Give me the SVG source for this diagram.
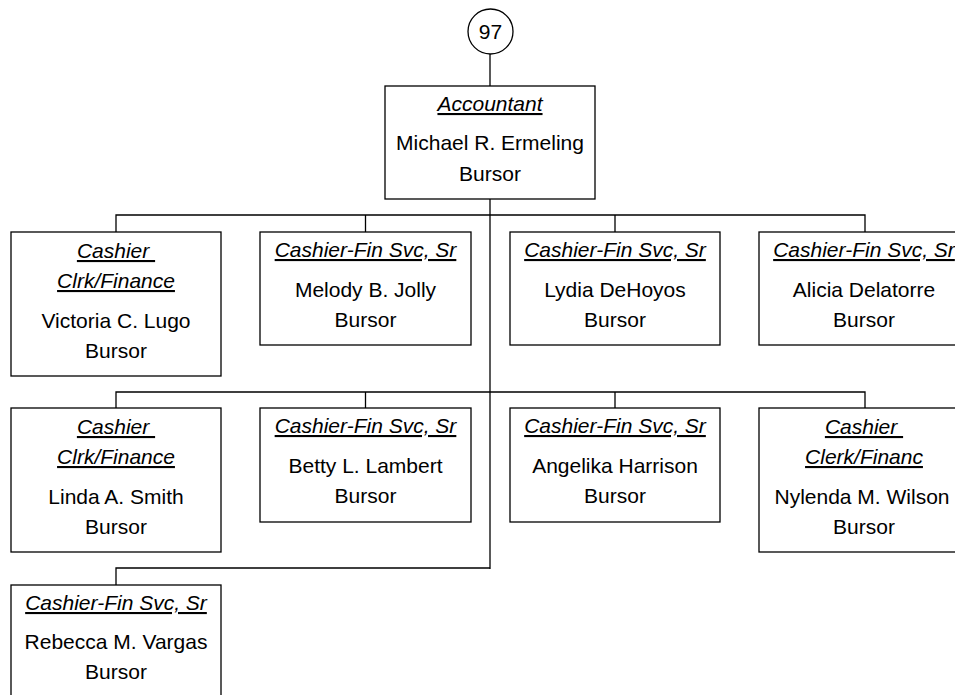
<svg xmlns="http://www.w3.org/2000/svg" width="955" height="695" viewBox="0 0 955 695">
<style>
.box{fill:#fff;stroke:#000;stroke-width:1.3}
.ln{fill:none;stroke:#000;stroke-width:1.3}
text{font-family:"Liberation Sans",Arial,sans-serif;font-size:21px;fill:#000;text-anchor:middle}
.t{font-style:italic;text-decoration:underline;white-space:pre}
</style>
<rect width="955" height="695" fill="#fff"/>
<g id="connectors">
<path class="ln" d="M490,54 V86"/>
<path class="ln" d="M490,199 V569"/>
<path class="ln" d="M116,232 V215 H865 V232 M365.5,215 V232 M615,215 V232"/>
<path class="ln" d="M116,408 V392 H865 V408 M365.5,392 V408 M615,392 V408"/>
<path class="ln" d="M490,568 H116 V585"/>
</g>
<g id="n97">
<circle class="box" cx="490.5" cy="31.5" r="22.5"/>
<text x="490.5" y="39">97</text>
</g>
<g id="accountant">
<rect class="box" x="385" y="86" width="210" height="113"/>
<text class="t" x="490" y="111">Accountant</text>
<text x="490" y="150">Michael R. Ermeling</text>
<text x="490" y="181">Bursor</text>
</g>
<g id="lugo">
<rect class="box" x="11" y="232" width="210" height="144"/>
<text class="t" x="116" y="258" xml:space="preserve">Cashier </text>
<text class="t" x="116" y="288">Clrk/Finance</text>
<text x="116" y="328">Victoria C. Lugo</text>
<text x="116" y="358">Bursor</text>
</g>
<g id="jolly">
<rect class="box" x="260" y="232" width="211" height="113"/>
<text class="t" x="365.5" y="257">Cashier-Fin Svc, Sr</text>
<text x="365.5" y="297">Melody B. Jolly</text>
<text x="365.5" y="327">Bursor</text>
</g>
<g id="dehoyos">
<rect class="box" x="510" y="232" width="210" height="113"/>
<text class="t" x="615" y="257">Cashier-Fin Svc, Sr</text>
<text x="615" y="297">Lydia DeHoyos</text>
<text x="615" y="327">Bursor</text>
</g>
<g id="delatorre">
<rect class="box" x="759" y="232" width="210" height="113"/>
<text class="t" x="864" y="257">Cashier-Fin Svc, Sr</text>
<text x="864" y="297">Alicia Delatorre</text>
<text x="864" y="327">Bursor</text>
</g>
<g id="smith">
<rect class="box" x="11" y="408" width="210" height="144"/>
<text class="t" x="116" y="434" xml:space="preserve">Cashier </text>
<text class="t" x="116" y="464">Clrk/Finance</text>
<text x="116" y="504">Linda A. Smith</text>
<text x="116" y="534">Bursor</text>
</g>
<g id="lambert">
<rect class="box" x="260" y="408" width="211" height="114"/>
<text class="t" x="365.5" y="433">Cashier-Fin Svc, Sr</text>
<text x="365.5" y="473">Betty L. Lambert</text>
<text x="365.5" y="503">Bursor</text>
</g>
<g id="harrison">
<rect class="box" x="510" y="408" width="210" height="114"/>
<text class="t" x="615" y="433">Cashier-Fin Svc, Sr</text>
<text x="615" y="473">Angelika Harrison</text>
<text x="615" y="503">Bursor</text>
</g>
<g id="wilson">
<rect class="box" x="759" y="408" width="210" height="144"/>
<text class="t" x="864" y="434" xml:space="preserve">Cashier </text>
<text class="t" x="864" y="464">Clerk/Financ</text>
<text x="862" y="504">Nylenda M. Wilson</text>
<text x="864" y="534">Bursor</text>
</g>
<g id="vargas">
<rect class="box" x="11" y="585" width="210" height="113"/>
<text class="t" x="116" y="610">Cashier-Fin Svc, Sr</text>
<text x="116" y="649">Rebecca M. Vargas</text>
<text x="116" y="679">Bursor</text>
</g>
</svg>
